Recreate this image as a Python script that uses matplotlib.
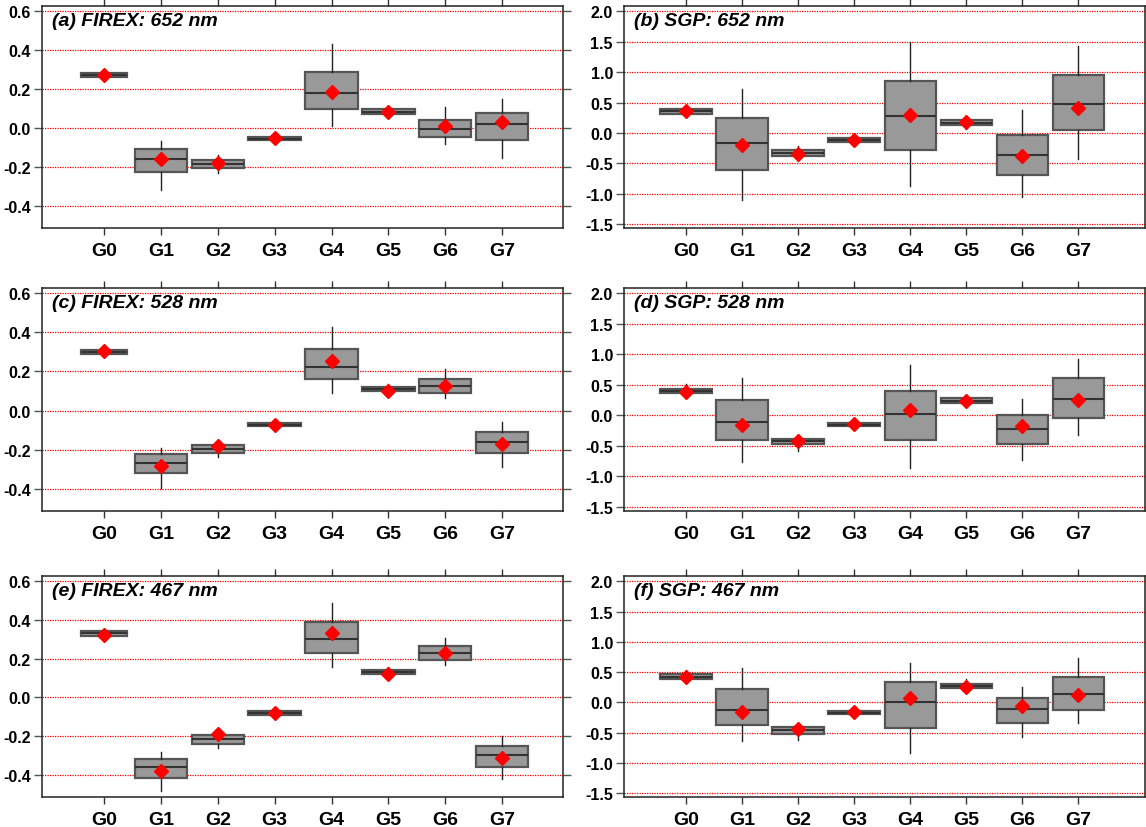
import numpy as np
import matplotlib
matplotlib.use("Agg")
import matplotlib.pyplot as plt

plt.rcParams["font.family"] = ["Liberation Sans", "DejaVu Sans"]

# ----------------------------------------------------------------------------
# data: box statistics per group (whisker low, Q1, median, Q3, whisker high, mean)
# ----------------------------------------------------------------------------
groups = ["G0", "G1", "G2", "G3", "G4", "G5", "G6", "G7"]

# (a) FIREX 652 nm
a_whislo = [0.250, -0.319, -0.233, -0.065, 0.009, 0.060, -0.081, -0.152]
a_q1     = [0.264, -0.224, -0.207, -0.060, 0.100, 0.072, -0.047, -0.059]
a_med    = [0.273, -0.157, -0.184, -0.055, 0.179, 0.083, -0.005, 0.021]
a_q3     = [0.280, -0.109, -0.164, -0.048, 0.288, 0.095, 0.043, 0.078]
a_whishi = [0.297, -0.067, -0.141, -0.045, 0.431, 0.112, 0.107, 0.150]
a_mean   = [0.270, -0.160, -0.181, -0.052, 0.183, 0.081, 0.009, 0.029]

# (b) SGP 652 nm
b_whislo = [0.260, -1.112, -0.460, -0.164, -0.877, 0.071, -1.052, -0.427]
b_q1     = [0.318, -0.603, -0.384, -0.142, -0.279, 0.126, -0.696, 0.055]
b_med    = [0.356, -0.164, -0.334, -0.115, 0.274, 0.170, -0.367, 0.482]
b_q3     = [0.395, 0.247, -0.285, -0.082, 0.860, 0.208, -0.027, 0.948]
b_whishi = [0.450, 0.723, -0.219, -0.055, 1.490, 0.274, 0.373, 1.425]
b_mean   = [0.356, -0.197, -0.340, -0.110, 0.290, 0.175, -0.373, 0.405]

# (c) FIREX 528 nm
c_whislo = [0.275, -0.394, -0.238, -0.082, 0.090, 0.086, 0.064, -0.290]
c_q1     = [0.288, -0.318, -0.216, -0.078, 0.162, 0.098, 0.090, -0.219]
c_med    = [0.300, -0.266, -0.195, -0.072, 0.225, 0.110, 0.124, -0.159]
c_q3     = [0.311, -0.223, -0.174, -0.066, 0.314, 0.121, 0.162, -0.109]
c_whishi = [0.318, -0.192, -0.152, -0.062, 0.427, 0.136, 0.211, -0.060]
c_mean   = [0.302, -0.282, -0.180, -0.073, 0.252, 0.102, 0.123, -0.169]

# (d) SGP 528 nm
d_whislo = [0.320, -0.755, -0.585, -0.210, -0.864, 0.160, -0.728, -0.317]
d_q1     = [0.367, -0.405, -0.465, -0.170, -0.405, 0.202, -0.470, -0.038]
d_med    = [0.400, -0.104, -0.420, -0.148, 0.022, 0.240, -0.224, 0.268]
d_q3     = [0.432, 0.246, -0.383, -0.126, 0.394, 0.279, 0.005, 0.613]
d_whishi = [0.520, 0.607, -0.323, -0.100, 0.820, 0.340, 0.273, 0.930]
d_mean   = [0.390, -0.164, -0.420, -0.142, 0.098, 0.230, -0.175, 0.246]

# (e) FIREX 467 nm
e_whislo = [0.299, -0.482, -0.261, -0.095, 0.157, 0.107, 0.166, -0.421]
e_q1     = [0.316, -0.413, -0.238, -0.088, 0.231, 0.119, 0.193, -0.356]
e_med    = [0.330, -0.359, -0.216, -0.080, 0.300, 0.131, 0.230, -0.294]
e_q3     = [0.342, -0.318, -0.193, -0.071, 0.387, 0.142, 0.264, -0.249]
e_whishi = [0.352, -0.283, -0.174, -0.066, 0.485, 0.157, 0.309, -0.200]
e_mean   = [0.323, -0.378, -0.188, -0.079, 0.333, 0.123, 0.231, -0.313]

# (f) SGP 467 nm
f_whislo = [0.344, -0.645, -0.628, -0.235, -0.836, 0.170, -0.579, -0.350]
f_q1     = [0.388, -0.383, -0.519, -0.197, -0.421, 0.230, -0.350, -0.120]
f_med    = [0.426, -0.126, -0.459, -0.170, 0.005, 0.268, -0.104, 0.142]
f_q3     = [0.470, 0.213, -0.415, -0.142, 0.333, 0.306, 0.071, 0.426]
f_whishi = [0.535, 0.563, -0.372, -0.110, 0.656, 0.383, 0.257, 0.727]
f_mean   = [0.420, -0.158, -0.448, -0.158, 0.066, 0.262, -0.066, 0.120]

panels = [
    ("(a) FIREX: 652 nm", a_whislo, a_q1, a_med, a_q3, a_whishi, a_mean),
    ("(b) SGP: 652 nm",   b_whislo, b_q1, b_med, b_q3, b_whishi, b_mean),
    ("(c) FIREX: 528 nm", c_whislo, c_q1, c_med, c_q3, c_whishi, c_mean),
    ("(d) SGP: 528 nm",   d_whislo, d_q1, d_med, d_q3, d_whishi, d_mean),
    ("(e) FIREX: 467 nm", e_whislo, e_q1, e_med, e_q3, e_whishi, e_mean),
    ("(f) SGP: 467 nm",   f_whislo, f_q1, f_med, f_q3, f_whishi, f_mean),
]

firex_ticks = [-0.4, -0.2, 0.0, 0.2, 0.4, 0.6]
sgp_ticks = [-1.5, -1.0, -0.5, 0.0, 0.5, 1.0, 1.5, 2.0]

# ----------------------------------------------------------------------------
# figure layout (pixel-based axes boxes)
# ----------------------------------------------------------------------------
W, H = 1146, 828
fig = plt.figure(figsize=(W / 100, H / 100), dpi=100)

col_x = [42, 624]
col_w = 521
col_xlim = [(-1.09, 8.07), (-1.11, 8.19)]
rows = [(7, 229), (289, 512), (577, 798)]

pos = np.arange(len(groups))

for i, (title, wlo, q1, med, q3, whi, mean) in enumerate(panels):
    r, c = divmod(i, 2)
    top, bot = rows[r]
    ax = fig.add_axes([col_x[c] / W, 1 - bot / H, col_w / W, (bot - top) / H])

    is_firex = c == 0
    stats = []
    for k, g in enumerate(groups):
        stats.append(dict(label=g, whislo=wlo[k], q1=q1[k], med=med[k],
                          q3=q3[k], whishi=whi[k], mean=mean[k]))
    widths = [0.92] * len(groups)
    if is_firex:
        widths[0] = 0.8

    # red dotted horizontal grid
    ticks = firex_ticks if is_firex else sgp_ticks
    for t in ticks:
        ax.axhline(t, color="red", lw=0.9, ls=(0, (1, 1)), zorder=0)

    ax.bxp(stats, positions=pos, widths=widths, patch_artist=True,
           showmeans=True, showcaps=False, showfliers=False,
           manage_ticks=False,
           boxprops=dict(facecolor="#999999", edgecolor="#555555", lw=1.6),
           medianprops=dict(color="#333333", lw=1.5),
           whiskerprops=dict(color="#222222", lw=1.0),
           meanprops=dict(marker="D", markerfacecolor="red",
                          markeredgecolor="red", markersize=7))

    ax.set_xlim(*col_xlim[c])
    if is_firex:
        ax.set_ylim(-0.513, 0.626)
    else:
        ax.set_ylim(-1.566, 2.09)
    ax.set_yticks(ticks)
    ax.set_yticklabels([f"{t:.1f}" for t in ticks])

    ax.set_xticks(pos)
    ax.set_xticklabels(groups)

    ax.tick_params(axis="y", which="both", direction="out", length=6,
                   width=1, color="#555555", left=True, right=True,
                   labelleft=True, labelright=False, pad=2,
                   labelsize=11.5)
    ax.tick_params(axis="x", direction="out", length=5, width=1,
                   color="#333333", top=True, bottom=True,
                   labeltop=False, labelbottom=True, pad=5,
                   labelsize=14)
    for lab in ax.get_yticklabels() + ax.get_xticklabels():
        lab.set_fontweight("bold")

    for sp in ax.spines.values():
        sp.set_color("#222222")
        sp.set_linewidth(1.1)

    ax.text(0.02, 0.975, title, transform=ax.transAxes, ha="left", va="top",
            fontsize=14, fontweight="bold", fontstyle="italic")

fig.savefig("out.png", dpi=100)
